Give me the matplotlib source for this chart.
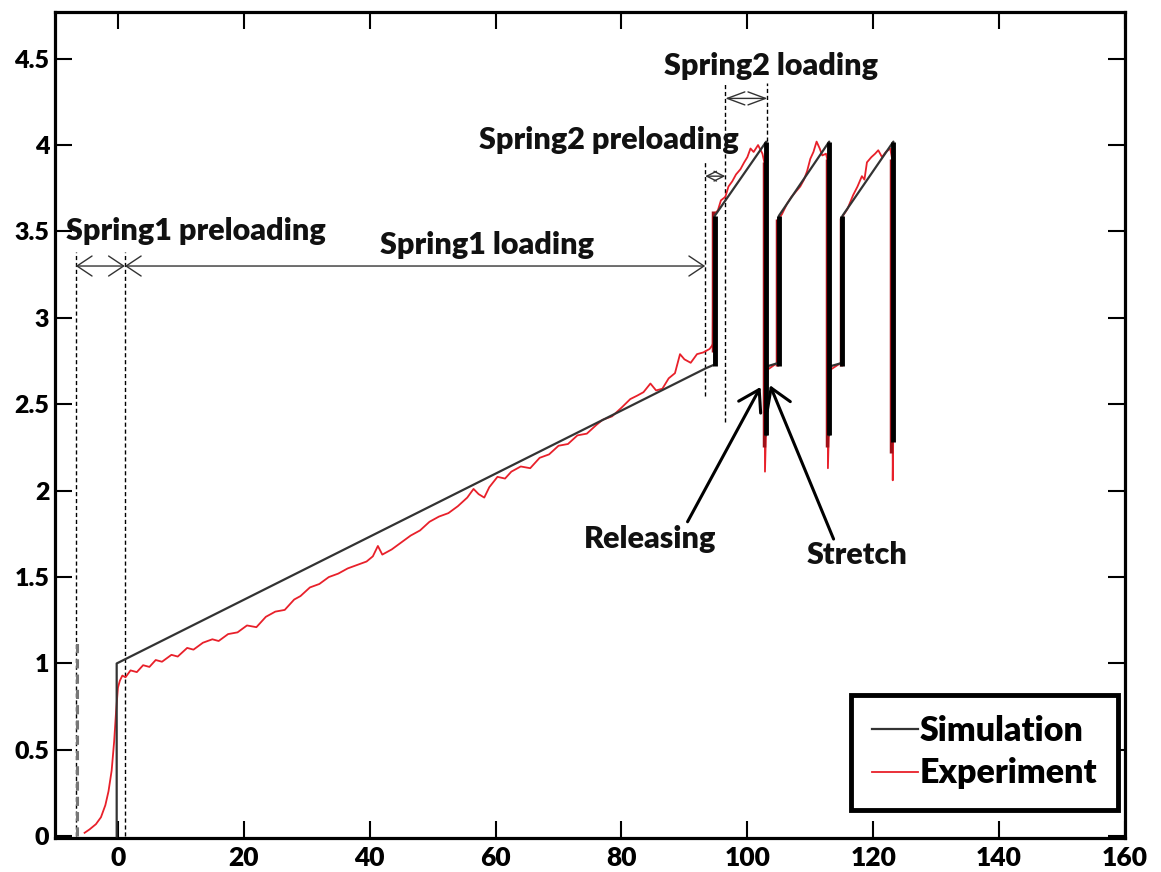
import matplotlib
matplotlib.use("Agg")
import matplotlib.pyplot as plt

plt.rcParams['font.family'] = ['Lato', 'DejaVu Sans']
plt.rcParams['font.weight'] = 'bold'

# simulation curve (black)
sim_x = [-0.2, -0.2, 93.5, 94.8, 94.8, 95.0, 103.0, 103.0, 103.2, 105.0, 105.0,
         113.0, 113.0, 113.2, 115.1, 115.1, 123.2, 123.2]
sim_y = [0.0, 1.0, 2.71, 2.73, 3.59, 3.60, 4.02, 2.32, 2.72, 2.74, 3.59,
         4.02, 2.32, 2.72, 2.74, 3.59, 4.02, 2.32]

# oscillating parts of the simulation, drawn as heavy vertical bands
sim_jump_x = [94.8, 103.0, 105.0, 113.0, 115.1, 123.2]
sim_jump_lo = [2.72, 2.32, 2.72, 2.32, 2.72, 2.28]
sim_jump_hi = [3.59, 4.02, 3.59, 4.02, 3.59, 4.02]

# experiment curve (red)
exp_x = [-5.3, -4.5, -3.5, -2.7, -2.0, -1.5, -1.0, -0.6, -0.3, 0.0, 0.3, 0.7, 1.2,
         2.0, 3.0, 4.0, 5.0, 6.0, 7.0, 8.5, 9.5, 11.0, 12.0, 13.5, 15.0, 16.0,
         17.5, 19.0, 20.5, 22.0, 23.5, 25.0, 26.5, 28.0, 29.0, 30.5, 32.0, 33.5,
         35.0, 36.5, 38.0, 39.5, 40.5, 41.3, 42.0, 43.5, 45.0, 46.5, 48.0, 49.5,
         51.0, 52.5, 54.0, 55.5, 56.5, 57.3, 58.2, 59.0, 60.3, 61.5, 62.5, 64.0,
         65.5, 67.0, 68.5, 70.0, 71.5, 73.0, 74.5, 76.0, 77.0, 78.5, 80.0, 81.4,
         82.5, 83.5, 84.6, 85.5, 86.5, 87.5, 88.5, 89.3, 90.0, 91.0, 92.0, 93.0,
         94.0, 94.4, 94.5, 94.6, 95.3, 95.8, 96.5, 97.0, 97.6, 98.2, 98.9, 99.5,
         100.0, 100.5, 101.0, 101.7, 102.4, 102.7, 102.8, 103.2, 104.8, 104.9,
         105.5, 106.3, 107.0, 107.7, 108.4, 109.0, 109.5, 110.0, 110.5, 111.0,
         111.5, 111.9, 112.5, 112.8, 112.8, 113.2, 114.9, 115.0, 115.9, 116.8,
         117.5, 118.2, 118.6, 119.0, 119.7, 120.3, 120.8, 121.4, 122.0, 122.7,
         123.0, 123.1, 123.3]
exp_y = [0.02, 0.04, 0.07, 0.11, 0.18, 0.26, 0.38, 0.55, 0.72, 0.86, 0.90, 0.93, 0.92,
         0.96, 0.95, 0.99, 0.98, 1.02, 1.01, 1.05, 1.04, 1.09, 1.08, 1.12, 1.14, 1.13,
         1.17, 1.18, 1.22, 1.21, 1.27, 1.30, 1.31, 1.37, 1.39, 1.44, 1.46, 1.50,
         1.52, 1.55, 1.57, 1.59, 1.62, 1.68, 1.63, 1.66, 1.70, 1.74, 1.77, 1.82,
         1.85, 1.87, 1.91, 1.96, 2.01, 1.98, 1.96, 2.02, 2.08, 2.07, 2.11, 2.14,
         2.13, 2.19, 2.21, 2.26, 2.27, 2.32, 2.33, 2.38, 2.41, 2.43, 2.48, 2.53,
         2.55, 2.57, 2.62, 2.58, 2.59, 2.65, 2.68, 2.79, 2.76, 2.74, 2.79, 2.80,
         2.82, 2.84, 2.85, 3.60, 3.62, 3.68, 3.70, 3.76, 3.79, 3.83, 3.86, 3.90,
         3.93, 3.98, 3.96, 4.00, 3.95, 3.90, 2.11, 2.70, 2.74, 3.57,
         3.60, 3.66, 3.70, 3.73, 3.76, 3.80, 3.85, 3.92, 3.96, 4.02,
         3.98, 3.94, 3.95, 3.90, 2.13, 2.70, 2.74, 3.58, 3.63, 3.71,
         3.76, 3.82, 3.80, 3.90, 3.93, 3.95, 3.97, 3.93, 3.96, 3.98,
         3.92, 2.06, 2.72]

exp_jump_x = [94.5, 102.7, 104.7, 112.7, 114.8, 122.9]
exp_jump_lo = [2.80, 2.25, 2.72, 2.25, 2.72, 2.22]
exp_jump_hi = [3.62, 3.90, 3.57, 3.92, 3.58, 3.92]

x_ticks = [0, 20, 40, 60, 80, 100, 120, 140, 160]
y_ticks = [0, 0.5, 1, 1.5, 2, 2.5, 3, 3.5, 4, 4.5]
y_labels = ['0', '0.5', '1', '1.5', '2', '2.5', '3', '3.5', '4', '4.5']

fig = plt.figure(figsize=(11.61, 8.72), dpi=100)
ax = fig.add_axes([55 / 1161, 34 / 872, 1070 / 1161, 826 / 872])

line_exp, = ax.plot(exp_x, exp_y, color='#e8202a', lw=1.3, label='Experiment', zorder=3)
ax.vlines(exp_jump_x, exp_jump_lo, exp_jump_hi, color='#a01018', lw=2.5, zorder=3)
line_sim, = ax.plot(sim_x, sim_y, color='#333333', lw=1.6, label='Simulation', zorder=4)
ax.vlines(sim_jump_x, sim_jump_lo, sim_jump_hi, color='black', lw=3.5, zorder=4)

# phase boundaries
dash = dict(color='black', lw=1.0, ls=(0, (3, 2)), zorder=2)
ax.plot([-6.7, -6.7], [0, 3.38], **dash)
ax.plot([-6.5, -6.5], [0, 1.15], color='#777777', lw=2.2, ls=(0, (3, 2)), zorder=2)
ax.plot([1.1, 1.1], [0, 3.38], **dash)
ax.plot([93.3, 93.3], [2.55, 3.9], **dash)
ax.plot([96.5, 96.5], [2.4, 4.36], **dash)
ax.plot([103.2, 103.2], [3.9, 4.36], **dash)

def span(x0, x1, y, ms, hl, hw):
    ax.annotate('', xy=(x1, y), xytext=(x0, y),
                arrowprops=dict(arrowstyle='<->, head_length=%s, head_width=%s' % (hl, hw),
                                lw=1.0, color='#333333', mutation_scale=ms,
                                shrinkA=0, shrinkB=0))

span(-6.7, 1.1, 3.30, 18, 0.6, 0.4)
span(1.1, 93.3, 3.30, 18, 0.6, 0.4)
span(93.3, 96.5, 3.82, 10, 0.7, 0.35)
span(96.5, 103.2, 4.27, 18, 0.7, 0.26)

txt = dict(fontsize=22, fontweight='heavy', ha='center', va='center', color='#111111')
ax.text(12.4, 3.50, 'Spring1 preloading', **txt)
ax.text(58.7, 3.42, 'Spring1 loading', **txt)
ax.text(78.0, 4.03, 'Spring2 preloading', **txt)
ax.text(103.8, 4.46, 'Spring2 loading', **txt)
ax.text(84.6, 1.72, 'Releasing', **txt)
ax.text(117.5, 1.63, 'Stretch', **txt)

pointer = dict(arrowstyle='->, head_length=0.8, head_width=0.5', lw=2.2,
               color='black', mutation_scale=18, shrinkA=0, shrinkB=0)
ax.annotate('', xy=(102.1, 2.60), xytext=(90.5, 1.82), arrowprops=pointer)
ax.annotate('', xy=(103.6, 2.61), xytext=(113.7, 1.72), arrowprops=pointer)

ax.set_xlim(-10, 160)
ax.set_ylim(-0.01, 4.77)
ax.set_xticks(x_ticks)
ax.set_yticks(y_ticks)
ax.set_yticklabels(y_labels)
ax.tick_params(direction='in', top=True, right=True, length=12, width=1.5)
ax.tick_params(axis='x', labelsize=19, pad=6)
ax.tick_params(axis='y', labelsize=18, pad=4)
for lab in ax.get_xticklabels() + ax.get_yticklabels():
    lab.set_fontweight('heavy')
for sp in ax.spines.values():
    sp.set_linewidth(2.3)

leg = ax.legend(handles=[line_sim, line_exp], loc='lower right',
                bbox_to_anchor=(0.993, 0.034), borderaxespad=0, fancybox=False,
                fontsize=24.5, handlelength=1.35, handletextpad=0.05,
                labelspacing=0.3, borderpad=0.6, framealpha=1)
leg.get_frame().set_edgecolor('black')
leg.get_frame().set_linewidth(3.5)
for t in leg.get_texts():
    t.set_fontweight('heavy')

fig.savefig('out.png', dpi=100)
